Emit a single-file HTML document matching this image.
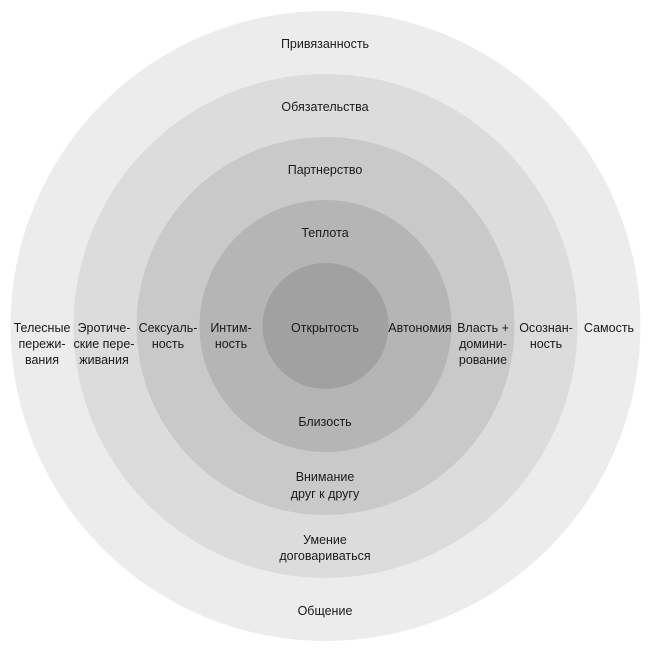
<!DOCTYPE html>
<html><head><meta charset="utf-8"><style>
html,body{margin:0;padding:0;background:#fff;width:651px;height:651px;overflow:hidden}
svg text{font-family:"Liberation Sans Narrow","Liberation Sans",sans-serif;font-size:12.5px;fill:#1a1a1a;text-anchor:middle}
</style></head><body>
<svg width="651" height="651" viewBox="0 0 651 651">
<circle cx="325.5" cy="326" r="315" fill="#ececec"/>
<circle cx="325.5" cy="326" r="252" fill="#dcdcdc"/>
<circle cx="325.5" cy="326" r="189" fill="#c9c9c9"/>
<circle cx="325.5" cy="326" r="126" fill="#b5b5b5"/>
<circle cx="325.5" cy="326" r="63" fill="#a1a1a1"/>
<g transform="translate(0,1)">
<text x="325" y="47">Привязанность</text>
<text x="325" y="110">Обязательства</text>
<text x="325" y="173">Партнерство</text>
<text x="325" y="236">Теплота</text>
<text x="325" y="331">Открытость</text>
<text x="325" y="425">Близость</text>
<text x="325" y="480">Внимание</text>
<text x="325" y="497">друг к другу</text>
<text x="325" y="543">Умение</text>
<text x="325" y="559">договариваться</text>
<text x="325" y="614">Общение</text>
<text x="42" y="331">Телесные</text>
<text x="42" y="347">пережи-</text>
<text x="42" y="363">вания</text>
<text x="104" y="331">Эротиче-</text>
<text x="104" y="347">ские пере-</text>
<text x="104" y="363">живания</text>
<text x="168" y="331">Сексуаль-</text>
<text x="168" y="347">ность</text>
<text x="231" y="331">Интим-</text>
<text x="231" y="347">ность</text>
<text x="420" y="331">Автономия</text>
<text x="483" y="331">Власть +</text>
<text x="483" y="347">домини-</text>
<text x="483" y="363">рование</text>
<text x="546" y="331">Осознан-</text>
<text x="546" y="347">ность</text>
<text x="609" y="331">Самость</text>
</g>
</svg>
</body></html>
